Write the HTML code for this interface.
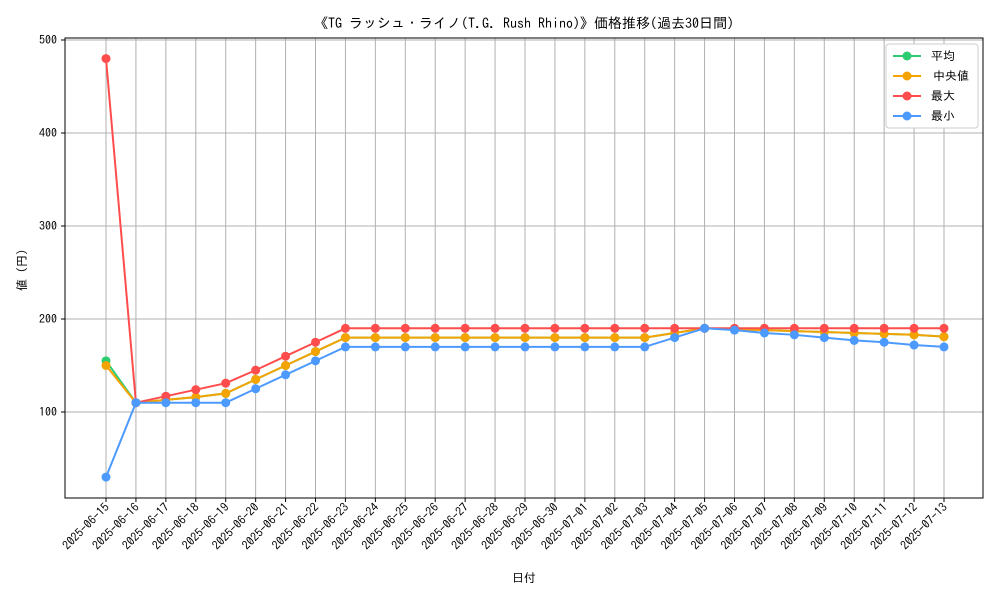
<!DOCTYPE html>
<html><head><meta charset="utf-8"><style>
body{margin:0;background:#fff;font-family:"IPAGothic","Liberation Sans",sans-serif}
svg text{font-family:"IPAGothic","Noto Sans CJK JP",monospace;font-size:12px;fill:#000}
</style></head><body>
<svg id="c" width="1000" height="600" xmlns="http://www.w3.org/2000/svg">
<text x="524" y="28" text-anchor="middle" style="font-size:14px">《TG ラッシュ・ライノ(T.G. Rush Rhino)》価格推移(過去30日間)</text>
<g id="grid"></g><g id="axes"></g><g id="series"></g>
<rect x="65" y="38" width="918" height="460" fill="none" stroke="#000" stroke-width="1"/>
<text x="524" y="582" text-anchor="middle">日付</text>
<text transform="translate(26,270) rotate(-90)" text-anchor="middle">値 (円)</text>
<g id="legend"></g>
</svg>
<script>
const dates=["2025-06-15","2025-06-16","2025-06-17","2025-06-18","2025-06-19","2025-06-20","2025-06-21","2025-06-22","2025-06-23","2025-06-24","2025-06-25","2025-06-26","2025-06-27","2025-06-28","2025-06-29","2025-06-30","2025-07-01","2025-07-02","2025-07-03","2025-07-04","2025-07-05","2025-07-06","2025-07-07","2025-07-08","2025-07-09","2025-07-10","2025-07-11","2025-07-12","2025-07-13"];
const meanVals=[155,110,113,116,120,135,150,165,180,180,180,180,180,180,180,180,180,180,180,185,190,189,188,187,186,185,184,183,181];
const medianVals=[150,110,113,116,120,135,150,165,180,180,180,180,180,180,180,180,180,180,180,185,190,189,188,187,186,185,184,183,181];
const maxVals=[480,110,117,124,131,145,160,175,190,190,190,190,190,190,190,190,190,190,190,190,190,190,190,190,190,190,190,190,190];
const minVals=[30,110,110,110,110,125,140,155,170,170,170,170,170,170,170,170,170,170,170,180,190,188,185,183,180,177,175,172,170];
const yTicks=[100,200,300,400,500];
const seriesNames=["平均","中央値","最大","最小"];
const NS="http://www.w3.org/2000/svg";
const X=i=>106+i*(944-106)/(dates.length-1);
const Y=v=>412-(v-100)*0.93;
function mk(t,a,p){const e=document.createElementNS(NS,t);for(const k in a)e.setAttribute(k,a[k]);p.appendChild(e);return e;}
const grid=document.getElementById('grid'),axes=document.getElementById('axes'),ser=document.getElementById('series'),leg=document.getElementById('legend');
dates.forEach((d,i)=>{
 const l=mk('line',{x1:X(i),x2:X(i),y1:38,y2:498,stroke:'#b0b0b0','stroke-width':1},grid);
 
 
 mk('line',{x1:X(i),x2:X(i),y1:498,y2:502,stroke:'#000'},axes);
 const t=mk('text',{x:X(i)+4,y:508,'text-anchor':'end',transform:`rotate(-45 ${X(i)+4} 508)`},axes);
 t.textContent=d;
 
 
});
yTicks.forEach(v=>{
 const l=mk('line',{x1:65,x2:983,y1:Y(v),y2:Y(v),stroke:'#b0b0b0','stroke-width':1},grid);
 
 
 mk('line',{x1:61,x2:65,y1:Y(v),y2:Y(v),stroke:'#000'},axes);
 const t=mk('text',{x:57,y:Y(v)+4,'text-anchor':'end'},axes);
 t.textContent=v;
 
 
});
const colors=['#2ecc71','#f5a300','#ff4d4d','#4d9aff'];
const data=[meanVals,medianVals,maxVals,minVals];
const keys=['mean','median','max','min'];
data.forEach((vals,s)=>{
 const g=mk('g',{},ser);
 
 
 mk('polyline',{points:vals.map((v,i)=>X(i)+','+Y(v)).join(' '),fill:'none',stroke:colors[s],'stroke-width':2},g);
 vals.forEach((v,i)=>{
  const c=mk('circle',{cx:X(i),cy:Y(v),r:4.5,fill:colors[s]},g);
  
  
 });
});
mk('rect',{x:886,y:44,width:92,height:84,rx:3,fill:'#fff',stroke:'#ccc'},leg);
seriesNames.forEach((n,s)=>{
 const y=56+s*20;
 const g=mk('g',{},leg);
 
 
 mk('line',{x1:893,x2:921,y1:y,y2:y,stroke:colors[s],'stroke-width':2},g);
 mk('circle',{cx:907,cy:y,r:4.5,fill:colors[s]},g);
 const t=mk('text',{x:s==1?933:931,y:y+4},g);
 t.textContent=n;
});
</script>
</body></html>
